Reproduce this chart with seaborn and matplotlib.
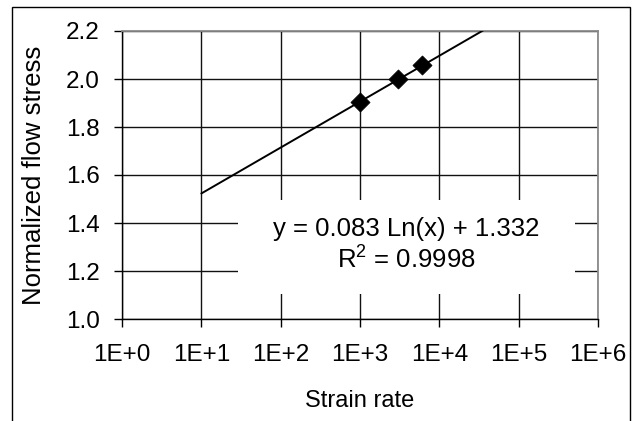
import matplotlib
matplotlib.use("Agg")
import matplotlib.pyplot as plt
import seaborn as sns
import pandas as pd

# Data
strain_rate = [1000, 3000, 6000]
flow_stress = [1.905, 1.998, 2.058]
trend_x = [10, 40000]
trend_y = [1.523, 2.212]
eq_text = "y = 0.083 Ln(x) + 1.332"
r2_text = "R$^2$ = 0.9998"
x_ticks = [1, 10, 100, 1000, 10000, 100000, 1000000]
x_labels = ["1E+0", "1E+1", "1E+2", "1E+3", "1E+4", "1E+5", "1E+6"]
y_ticks = [1.0, 1.2, 1.4, 1.6, 1.8, 2.0, 2.2]

sns.set_theme(style="white")
plt.rcParams['font.family'] = ['Liberation Sans', 'DejaVu Sans']
plt.rcParams['mathtext.fontset'] = 'custom'
plt.rcParams['mathtext.rm'] = 'Liberation Sans'

W, H = 632, 421
L, R, T, B = 122, 598, 31, 319
fig = plt.figure(figsize=(W/100, H/100), dpi=100)
ax = fig.add_axes([L/W, 1-B/H, (R-L)/W, (B-T)/H])

def ax_x(px):
    return (px-L)/(R-L)

def ax_y(py):
    return (B-py)/(B-T)

# figure frame
fig.patches.append(plt.Rectangle((12/W, -0.05), (630-12)/W, 1-7/H+0.05,
                                 transform=fig.transFigure, fill=False,
                                 edgecolor='black', linewidth=1.0))

df_pts = pd.DataFrame({"x": strain_rate, "y": flow_stress})
df_tr = pd.DataFrame({"x": trend_x, "y": trend_y})

ax.set_xscale("log")
sns.lineplot(data=df_tr, x="x", y="y", ax=ax, color="black", linewidth=1.4, zorder=3)
sns.scatterplot(data=df_pts, x="x", y="y", ax=ax, marker="D", s=95, color="black",
                edgecolor="black", linewidth=0.5, zorder=4)

ax.set_xlim(1, 1e6)
ax.set_ylim(1.0, 2.2)
ax.set_xticks(x_ticks)
ax.set_xticklabels(x_labels)
ax.xaxis.set_minor_locator(matplotlib.ticker.NullLocator())
ax.set_yticks(y_ticks)
ax.set_yticklabels([f"{v:.1f}" for v in y_ticks])

ax.grid(True, which="major", color="#111111", linewidth=1.0)
ax.set_axisbelow(True)
for s in ["top", "right"]:
    ax.spines[s].set_color("#8a8a8a")
    ax.spines[s].set_linewidth(1.3)
for s in ["left", "bottom"]:
    ax.spines[s].set_color("black")
    ax.spines[s].set_linewidth(1.0)

ax.tick_params(axis="both", which="major", direction="out", length=6, width=1,
               color="black", labelsize=17.5, labelcolor="black", bottom=True, left=True)
ax.tick_params(axis="x", pad=12)
ax.tick_params(axis="y", pad=10)

ax.set_xlabel("Strain rate", fontsize=17, color="black", va="center")
ax.xaxis.set_label_coords(0.5, ax_y(401))
ax.set_ylabel("Normalized flow stress", fontsize=18.5, color="black", va="center")
ax.yaxis.set_label_coords(ax_x(34), 0.5)

# equation box
ax.add_patch(plt.Rectangle((ax_x(238), ax_y(294)), ax_x(575)-ax_x(238), ax_y(200)-ax_y(294),
                           transform=ax.transAxes, facecolor="white", edgecolor="none",
                           zorder=2))
cx = ax_x(406)
ax.text(cx, ax_y(229), eq_text, transform=ax.transAxes, ha="center",
        va="center", fontsize=18.5, color="black", zorder=5)
ax.text(cx, ax_y(259), r2_text, transform=ax.transAxes, ha="center",
        va="center", fontsize=18.5, color="black", zorder=5)

fig.savefig("out.png", dpi=100)
